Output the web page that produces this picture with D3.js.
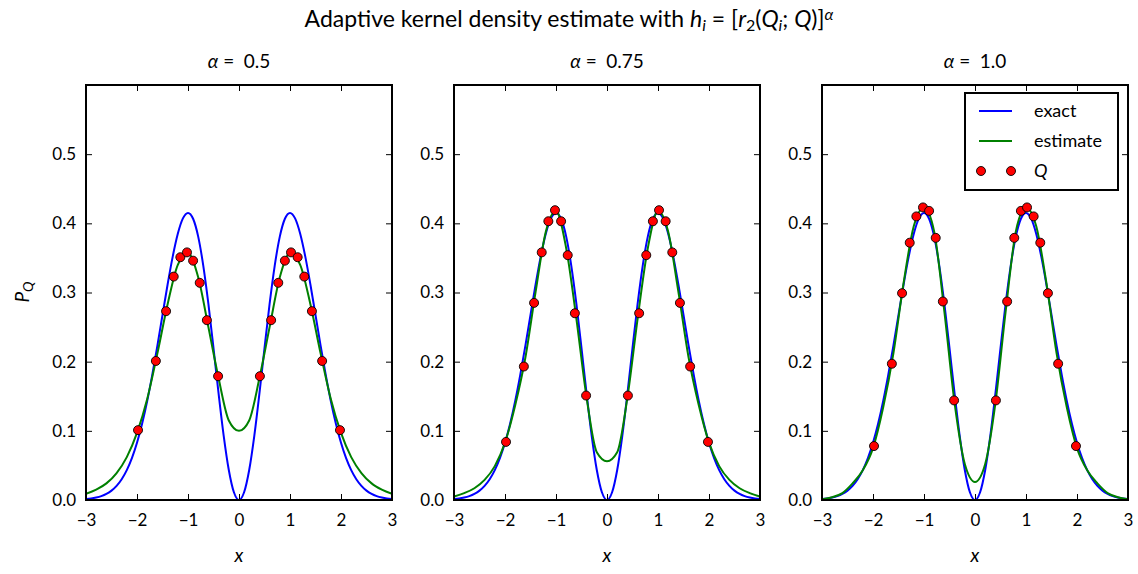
<!DOCTYPE html>
<html>
<head>
<meta charset="utf-8">
<script src="https://cdn.jsdelivr.net/npm/d3@7"></script>
<style>
  body { margin: 0; background: #fff; }
  text { font-family: "Lato", "Open Sans", sans-serif; fill: #000; }
</style>
</head>
<body>
<div id="chart"></div>
<script>

// panel titles
var alphaLabels = ["0.5", "0.75", "1.0"];

// tick values
var xTicks = [-3, -2, -1, 0, 1, 2, 3];
var yTicks = [0.0, 0.1, 0.2, 0.3, 0.4, 0.5];

var exactX = [-3.0, -2.9, -2.8, -2.7, -2.6, -2.5, -2.4, -2.3, -2.2, -2.1,
              -2.0, -1.9, -1.8, -1.7, -1.6, -1.5, -1.4, -1.3, -1.2, -1.1,
              -1.0, -0.9, -0.8, -0.7, -0.6, -0.5, -0.4, -0.3, -0.2, -0.1,
              0.0, 0.1, 0.2, 0.3, 0.4, 0.5, 0.6, 0.7, 0.8, 0.9,
              1.0, 1.1, 1.2, 1.3, 1.4, 1.5, 1.6, 1.7, 1.8, 1.9,
              2.0, 2.1, 2.2, 2.3, 2.4, 2.5, 2.6, 2.7, 2.8, 2.9, 3.0];
var exactY = [0.0013, 0.0021, 0.0035, 0.0056, 0.0088, 0.0136, 0.0205, 0.0301, 0.0432, 0.0605,
              0.0827, 0.1102, 0.1432, 0.1812, 0.2233, 0.2675, 0.3116, 0.3518, 0.3849, 0.4071,
              0.4151, 0.4066, 0.3808, 0.3386, 0.2834, 0.2197, 0.1538, 0.0928, 0.0434, 0.0112,
              0.0,
              0.0112, 0.0434, 0.0928, 0.1538, 0.2197, 0.2834, 0.3386, 0.3808, 0.4066,
              0.4151, 0.4071, 0.3849, 0.3518, 0.3116, 0.2675, 0.2233, 0.1812, 0.1432, 0.1102,
              0.0827, 0.0605, 0.0432, 0.0301, 0.0205, 0.0136, 0.0088, 0.0056, 0.0035, 0.0021, 0.0013];

// estimates, read off at 0.2 steps
var estX = [-3.0, -2.8, -2.6, -2.4, -2.2, -2.0, -1.8, -1.6, -1.4, -1.2, -1.0, -0.8, -0.6, -0.4, -0.2,
            0.0, 0.2, 0.4, 0.6, 0.8, 1.0, 1.2, 1.4, 1.6, 1.8, 2.0, 2.2, 2.4, 2.6, 2.8, 3.0];
var est05 = [0.009, 0.015, 0.024, 0.039, 0.062, 0.097, 0.146, 0.212, 0.283, 0.340, 0.357, 0.322, 0.250, 0.176, 0.115,
             0.100, 0.115, 0.176, 0.250, 0.322, 0.357, 0.340, 0.283, 0.212, 0.146, 0.097, 0.062, 0.039, 0.024, 0.015, 0.009];
var est075 = [0.005, 0.010, 0.017, 0.029, 0.049, 0.083, 0.137, 0.206, 0.301, 0.388, 0.418, 0.364, 0.262, 0.148, 0.069,
              0.056, 0.069, 0.148, 0.262, 0.364, 0.418, 0.388, 0.301, 0.206, 0.137, 0.083, 0.049, 0.029, 0.017, 0.010, 0.005];
var est10 = [0.001, 0.004, 0.010, 0.024, 0.043, 0.075, 0.134, 0.212, 0.314, 0.396, 0.423, 0.388, 0.272, 0.140, 0.052,
             0.026, 0.052, 0.140, 0.272, 0.388, 0.423, 0.396, 0.314, 0.212, 0.134, 0.075, 0.043, 0.024, 0.010, 0.004, 0.001];

// sample points Q
var qX = [-1.98, -1.63, -1.43, -1.28, -1.15, -1.02, -0.90, -0.77, -0.63, -0.41,
          0.41, 0.63, 0.77, 0.90, 1.02, 1.15, 1.28, 1.43, 1.63, 1.98];
var q05 = [0.101, 0.201, 0.273, 0.323, 0.351, 0.358, 0.346, 0.314, 0.260, 0.179,
           0.179, 0.260, 0.314, 0.346, 0.358, 0.351, 0.323, 0.273, 0.201, 0.101];
var q075 = [0.084, 0.193, 0.285, 0.358, 0.403, 0.419, 0.403, 0.354, 0.270, 0.151,
            0.151, 0.270, 0.354, 0.403, 0.419, 0.403, 0.358, 0.285, 0.193, 0.084];
var q10 = [0.078, 0.197, 0.299, 0.372, 0.410, 0.423, 0.418, 0.379, 0.287, 0.144,
           0.144, 0.287, 0.379, 0.418, 0.423, 0.410, 0.372, 0.299, 0.197, 0.078];

var estimates = [est05, est075, est10];
var samples = [q05, q075, q10];

var width = 1138, height = 574;
var panelLeft = [86, 454, 822];
var panelW = 306, plotTop = 85, plotBottom = 500;

var svg = d3.select("#chart")
    .append("svg")
    .attr("width", width)
    .attr("height", height);

// main title
var title = svg.append("text")
    .attr("x", 569)
    .attr("y", 27)
    .attr("text-anchor", "middle")
    .style("font-size", "23px");
title.append("tspan").text("Adaptive kernel density estimate with ");
title.append("tspan").style("font-style", "italic").text("h");
title.append("tspan").attr("baseline-shift", "-25%").style("font-size", "16px").style("font-style", "italic").text("i");
title.append("tspan").text(" = [");
title.append("tspan").style("font-style", "italic").text("r");
title.append("tspan").attr("baseline-shift", "-25%").style("font-size", "16px").text("2");
title.append("tspan").text("(");
title.append("tspan").style("font-style", "italic").text("Q");
title.append("tspan").attr("baseline-shift", "-25%").style("font-size", "16px").style("font-style", "italic").text("i");
title.append("tspan").text("; ");
title.append("tspan").style("font-style", "italic").text("Q");
title.append("tspan").text(")]");
title.append("tspan").attr("baseline-shift", "45%").style("font-size", "16px").style("font-style", "italic").text("α");

var y = d3.scaleLinear().domain([0, 0.6]).range([plotBottom, plotTop]);

alphaLabels.forEach(function (lab, k) {
    var x = d3.scaleLinear()
        .domain([-3, 3])
        .range([panelLeft[k], panelLeft[k] + panelW]);

    var g = svg.append("g");

    // clip so curves stay in the frame
    g.append("clipPath")
        .attr("id", "clip" + k)
        .append("rect")
        .attr("x", panelLeft[k])
        .attr("y", plotTop)
        .attr("width", panelW)
        .attr("height", plotBottom - plotTop);

    var line = d3.line()
        .x(function (d) { return x(d[0]); })
        .y(function (d) { return y(d[1]); })
        .curve(d3.curveMonotoneX);

    g.append("path")
        .datum(d3.zip(exactX, exactY))
        .attr("clip-path", "url(#clip" + k + ")")
        .attr("d", line)
        .attr("fill", "none")
        .attr("stroke", "#0000ff")
        .attr("stroke-width", 2);

    g.append("path")
        .datum(d3.zip(estX, estimates[k]))
        .attr("clip-path", "url(#clip" + k + ")")
        .attr("d", line)
        .attr("fill", "none")
        .attr("stroke", "#008000")
        .attr("stroke-width", 2);

    g.selectAll("circle")
        .data(d3.zip(qX, samples[k]))
        .enter()
        .append("circle")
        .attr("cx", function (d) { return x(d[0]); })
        .attr("cy", function (d) { return y(d[1]); })
        .attr("r", 4.5)
        .style("fill", "#ff0000")
        .style("stroke", "#000")
        .style("stroke-width", 0.9);

    // axes, ticks pointing inward on all four sides
    var fmtX = function (d) { return d < 0 ? "\u2212" + Math.abs(d) : d; };
    g.append("g")
        .attr("transform", "translate(0," + plotBottom + ")")
        .call(d3.axisBottom(x).tickValues(xTicks).tickSize(-6).tickPadding(14).tickFormat(fmtX));
    g.append("g")
        .attr("transform", "translate(0," + plotTop + ")")
        .call(d3.axisTop(x).tickValues(xTicks).tickSize(-6).tickFormat(""));
    g.append("g")
        .attr("transform", "translate(" + panelLeft[k] + ",0)")
        .call(d3.axisLeft(y).tickValues(yTicks).tickSize(-6).tickPadding(10).tickFormat(d3.format(".1f")));
    g.append("g")
        .attr("transform", "translate(" + (panelLeft[k] + panelW) + ",0)")
        .call(d3.axisRight(y).tickValues(yTicks).tickSize(-6).tickFormat(""));

    g.selectAll(".domain").remove();
    g.selectAll(".tick line").attr("stroke", "#000").attr("stroke-width", 1);
    g.selectAll(".tick text").style("font-size", "17px").style("font-family", "Lato, sans-serif");

    // frame
    g.append("rect")
        .attr("x", panelLeft[k])
        .attr("y", plotTop)
        .attr("width", panelW)
        .attr("height", plotBottom - plotTop)
        .attr("fill", "none")
        .attr("stroke", "#000")
        .attr("stroke-width", 2);

    // panel title
    var t = g.append("text")
        .attr("x", panelLeft[k] + panelW / 2)
        .attr("y", 68)
        .attr("text-anchor", "middle")
        .style("font-size", "19px");
    t.append("tspan").style("font-style", "italic").text("α");
    t.append("tspan").text(" =\u2002" + lab);

    // x label
    g.append("text")
        .attr("x", panelLeft[k] + panelW / 2)
        .attr("y", 562)
        .attr("text-anchor", "middle")
        .style("font-size", "19px")
        .style("font-style", "italic")
        .text("x");
});

// y label
var yl = svg.append("text")
    .attr("transform", "translate(29,292) rotate(-90)")
    .attr("text-anchor", "middle")
    .style("font-size", "19px")
    .style("font-style", "italic");
yl.append("tspan").text("P");
yl.append("tspan").attr("baseline-shift", "-25%").style("font-size", "14px").text("Q");

// legend in the last panel
var leg = svg.append("g");
leg.append("rect")
    .attr("x", 965).attr("y", 93)
    .attr("width", 153).attr("height", 97)
    .attr("fill", "#fff")
    .attr("stroke", "#000")
    .attr("stroke-width", 2);
leg.append("line")
    .attr("x1", 979).attr("x2", 1012).attr("y1", 111).attr("y2", 111)
    .attr("stroke", "#0000ff").attr("stroke-width", 2);
leg.append("line")
    .attr("x1", 979).attr("x2", 1012).attr("y1", 141).attr("y2", 141)
    .attr("stroke", "#008000").attr("stroke-width", 2);
leg.selectAll("circle")
    .data([981, 1011])
    .enter()
    .append("circle")
    .attr("cx", function (d) { return d; })
    .attr("cy", 171)
    .attr("r", 4.5)
    .style("fill", "#ff0000")
    .style("stroke", "#000")
    .style("stroke-width", 0.9);
leg.append("text").attr("x", 1034).attr("y", 117).style("font-size", "18px").text("exact");
leg.append("text").attr("x", 1034).attr("y", 147).style("font-size", "18px").text("estimate");
leg.append("text").attr("x", 1034).attr("y", 177).style("font-size", "18px").style("font-style", "italic").text("Q");

</script>
</body>
</html>
